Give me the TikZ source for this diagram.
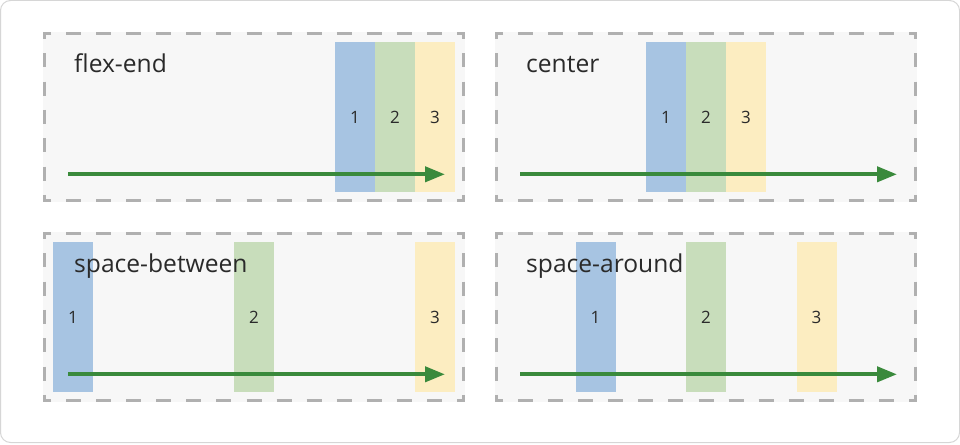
\documentclass[tikz,border=0pt]{standalone}
\usepackage{fontspec}
\setmainfont{Open Sans}
\usetikzlibrary{arrows.meta}
\definecolor{outerline}{HTML}{D6D6D6}
\definecolor{panelbg}{HTML}{F7F7F7}
\definecolor{panelgray}{HTML}{B0B0B0}
\definecolor{cblue}{HTML}{A7C4E2}
\definecolor{cgreen}{HTML}{C8DDBB}
\definecolor{cyellow}{HTML}{FCEDC1}
\definecolor{arrowgreen}{HTML}{3A8A3C}
\definecolor{txt}{HTML}{2A2A2A}
\tikzset{
  itembox/.style={minimum width=40pt, minimum height=150pt, inner sep=0pt, draw=none,
    text=txt, font=\fontsize{17}{20}\selectfont},
  boxblue/.style={itembox, fill=cblue},
  boxgreen/.style={itembox, fill=cgreen},
  boxyellow/.style={itembox, fill=cyellow},
  titletext/.style={anchor=base west, inner sep=0pt, text=txt, font=\fontsize{24.6}{28}\selectfont},
  flowarrow/.style={draw=arrowgreen, line width=4pt, -{Triangle[length=20pt,width=15pt]}},
  panelline/.style={draw=panelgray, line width=3pt, line cap=butt, miter limit=10},
}
\newcommand{\dpanel}[2]{%
  \fill[panelbg] (#1,#2) rectangle ++(422,170);
  \begin{scope}[panelline]
    \draw[dash pattern=on 15.04pt off 15.04pt, dash phase=15.04pt] (#1+8,#2+1.5) -- (#1+414,#2+1.5);
    \draw[dash pattern=on 15.04pt off 15.04pt, dash phase=15.04pt] (#1+8,#2+168.5) -- (#1+414,#2+168.5);
    \draw[dash pattern=on 14.18pt off 14.18pt, dash phase=14.18pt] (#1+1.5,#2+7) -- (#1+1.5,#2+163);
    \draw[dash pattern=on 14.18pt off 14.18pt, dash phase=14.18pt] (#1+420.5,#2+7) -- (#1+420.5,#2+163);
    \draw (#1+8,#2+1.5) -- (#1+1.5,#2+1.5) -- (#1+1.5,#2+7);
    \draw (#1+414,#2+1.5) -- (#1+420.5,#2+1.5) -- (#1+420.5,#2+7);
    \draw (#1+8,#2+168.5) -- (#1+1.5,#2+168.5) -- (#1+1.5,#2+163);
    \draw (#1+414,#2+168.5) -- (#1+420.5,#2+168.5) -- (#1+420.5,#2+163);
  \end{scope}}
\begin{document}
\begin{tikzpicture}[x=1pt,y=-1pt]
\useasboundingbox (0,0) rectangle (960,444);
\draw[draw=outerline, line width=1pt, fill=white, rounded corners=10pt] (0.5,0.5) rectangle (959.5,442.5);
% panels
\dpanel{43}{32}
\dpanel{495}{32}
\dpanel{43}{232}
\dpanel{495}{232}
% flex-end
\node[boxblue]   (fe1) at (355,117) {1};
\node[boxgreen]  (fe2) at (395,117) {2};
\node[boxyellow] (fe3) at (435,117) {3};
% center
\node[boxblue]   (ce1) at (666,117) {1};
\node[boxgreen]  (ce2) at (706,117) {2};
\node[boxyellow] (ce3) at (746,117) {3};
% space-between
\node[boxblue]   (sb1) at (73,317) {1};
\node[boxgreen]  (sb2) at (254,317) {2};
\node[boxyellow] (sb3) at (435,317) {3};
% space-around
\node[boxblue]   (sa1) at (595.5,317) {1};
\node[boxgreen]  (sa2) at (706,317) {2};
\node[boxyellow] (sa3) at (816.5,317) {3};
% arrows
\coordinate (fes) at (68,174.3);
\coordinate (fee) at (445,174.3);
\coordinate (ces) at (520,174.3);
\coordinate (cee) at (897,174.3);
\coordinate (sbs) at (68,374.3);
\coordinate (sbe) at (445,374.3);
\coordinate (sas) at (520,374.3);
\coordinate (sae) at (897,374.3);
\draw[flowarrow] (fes) -- (fee);
\draw[flowarrow] (ces) -- (cee);
\draw[flowarrow] (sbs) -- (sbe);
\draw[flowarrow] (sas) -- (sae);
% titles
\node[titletext] (tfe) at (74,72.7) {flex-end};
\node[titletext] (tce) at (526,72.7) {center};
\node[titletext] (tsb) at (74,272.7) {space-between};
\node[titletext] (tsa) at (526,272.7) {space-around};
\end{tikzpicture}
\end{document}
